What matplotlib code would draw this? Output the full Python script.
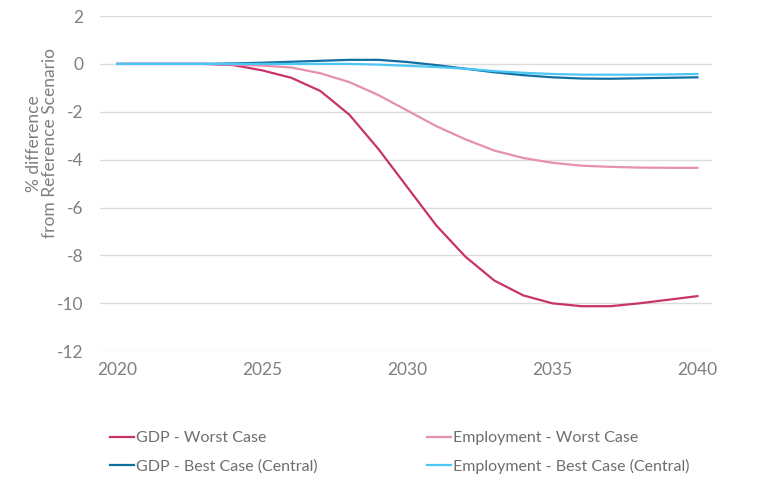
import matplotlib
matplotlib.use('Agg')
import matplotlib.pyplot as plt

plt.rcParams['font.family'] = ['Lato', 'DejaVu Sans']
plt.rcParams['axes.unicode_minus'] = False

years = list(range(2020, 2041))

gdp_worst = [0, 0, 0, 0, -0.05, -0.27, -0.58, -1.13, -2.12, -3.55, -5.15,
             -6.75, -8.05, -9.05, -9.67, -10.0, -10.12, -10.12, -10.0,
             -9.85, -9.7]
emp_worst = [0, 0, 0, 0, -0.03, -0.07, -0.15, -0.39, -0.76, -1.3, -1.95,
             -2.6, -3.15, -3.62, -3.93, -4.13, -4.25, -4.3, -4.33, -4.34,
             -4.34]
gdp_best = [0, 0, 0, 0, 0.02, 0.05, 0.09, 0.13, 0.17, 0.17, 0.08,
            -0.05, -0.2, -0.35, -0.47, -0.56, -0.61, -0.62, -0.6, -0.58,
            -0.56]
emp_best = [0, 0, 0, 0, 0, 0, 0, 0, 0, -0.03, -0.08,
            -0.13, -0.2, -0.3, -0.37, -0.42, -0.45, -0.45, -0.45, -0.44,
            -0.42]

labels = ['GDP - Worst Case', 'GDP - Best Case (Central)',
          'Employment - Worst Case', 'Employment - Best Case (Central)']
colors = ['#c8336a', '#0f6fa0', '#e590ad', '#4cc6f5']

x_ticks = [2020, 2025, 2030, 2035, 2040]
y_ticks = [2, 0, -2, -4, -6, -8, -10, -12]

fig = plt.figure(figsize=(7.68, 5.01), dpi=100)
ax = fig.add_axes([0.130, 0.299, 0.797, 0.669])

series = [gdp_worst, gdp_best, emp_worst, emp_best]
for vals, lab, col in zip(series, labels, colors):
    ax.plot(years, vals, color=col, lw=1.6, label=lab)

ax.set_xlim(2019.4, 2040.5)
ax.set_ylim(-12, 2)
ax.set_xticks(x_ticks)
ax.set_yticks(y_ticks)
ax.grid(axis='y', color='#dcdcdc', lw=1)
ax.set_axisbelow(True)
for s in ax.spines.values():
    s.set_visible(False)
ax.tick_params(length=0, labelsize=12.5, labelcolor='#7f7f7f', pad=8)
ax.tick_params(axis='y', pad=12)

ax.set_ylabel('% difference\nfrom Reference Scenario', fontsize=12.5,
              color='#7f7f7f', linespacing=1.0)
ax.yaxis.set_label_coords(-0.068, 0.62)

handles, labs = ax.get_legend_handles_labels()
fig.legend(handles, labs, ncol=2, loc='upper left',
           bbox_to_anchor=(0.135, 0.152), frameon=False,
           fontsize=11.5, labelcolor='#6e6e6e', handlelength=1.5,
           handletextpad=0.15, columnspacing=6.8, labelspacing=0.85,
           borderaxespad=0)

fig.savefig('out.png', dpi=100)
